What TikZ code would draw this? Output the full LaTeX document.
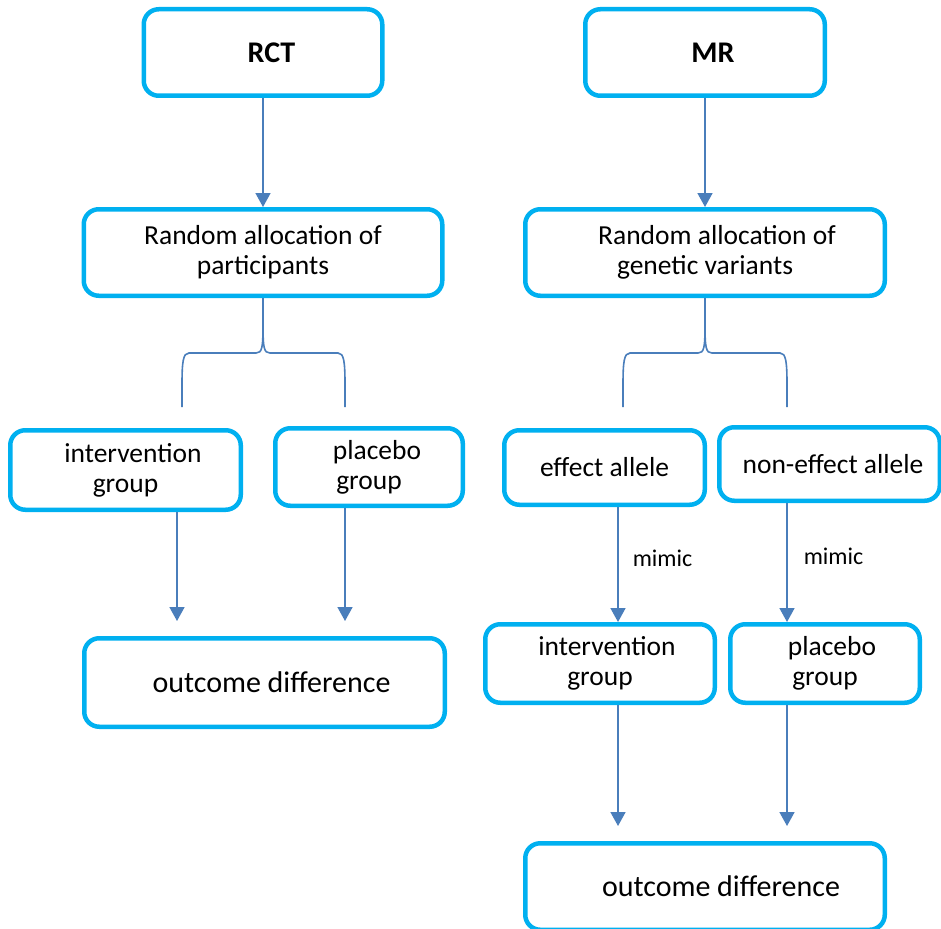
\documentclass[tikz,border=0pt]{standalone}
\usepackage{fontspec}
\setmainfont{Carlito}
\usetikzlibrary{arrows.meta}
\definecolor{boxcyan}{HTML}{00B0F0}
\definecolor{arrblue}{HTML}{4A7EBB}
\begin{document}
\begin{tikzpicture}[x=1pt,y=-1pt,
  fbox/.style={draw=boxcyan, line width=4.5pt, rounded corners=15pt, inner sep=0pt, align=center,
    font=\fontsize{27.5}{30}\selectfont, text=black},
  titlebox/.style={fbox, font=\fontsize{30}{34}\selectfont\bfseries},
  outbox/.style={fbox, font=\fontsize{30}{34}\selectfont},
  arr/.style={draw=arrblue, line width=1.6pt, -{Triangle[width=15pt,length=14pt]}},
  brace/.style={draw=arrblue, line width=1.6pt},
  lbl/.style={font=\fontsize{24}{28}\selectfont, text=black, inner sep=0pt}]
\useasboundingbox (0,0) rectangle (941,928);
\fill[white] (0,0) rectangle (941,928);
% boxes
\node[titlebox, minimum width=238.5pt, minimum height=86.5pt] (rct) at (263,52.5) {\hspace*{17pt}RCT};
\node[titlebox, minimum width=239.5pt, minimum height=86.5pt] (mr) at (705,52.5) {\hspace*{16pt}MR};
\node[fbox, minimum width=358.5pt, minimum height=86.5pt] (randl) at (263,252.5) {Random allocation of\\participants};
\node[fbox, minimum width=359.5pt, minimum height=86.5pt] (randr) at (705,252.5) {\hspace*{24pt}Random allocation of\\genetic variants};
\node[fbox, minimum width=230.5pt, minimum height=79.5pt] (intl) at (125.5,470) {\hspace*{15pt}intervention\\group};
\node[fbox, minimum width=187.5pt, minimum height=77.5pt] (plal) at (369,467) {\hspace*{16pt}placebo\\group};
\node[fbox, minimum width=200.5pt, minimum height=74.5pt] (eff) at (604.5,467.5) {effect allele};
\node[fbox, minimum width=220.5pt, minimum height=73.5pt] (neff) at (829.5,464) {\hspace*{7pt}non-effect allele};
\node[fbox, minimum width=229.5pt, minimum height=78.5pt] (intr) at (600,663.5) {\hspace*{14pt}intervention\\group};
\node[fbox, minimum width=189.5pt, minimum height=78.5pt] (plar) at (825,663.5) {\hspace*{14pt}placebo\\group};
\node[outbox, minimum width=360.5pt, minimum height=88.5pt] (outl) at (264.5,682.5) {\hspace*{14pt}outcome difference};
\node[outbox, minimum width=359.5pt, minimum height=86.5pt] (outr) at (705,886.5) {\hspace*{32pt}outcome difference};
% top arrows
\draw[arr] (rct) -- (randl);
\draw[arr] (mr) -- (randr);
% braces
\foreach \c/\l/\r/\n in {263/182/345/randl, 705/623/787/randr}{
  \draw[brace] (\n.south) -- (\c,325)
    .. controls (\c,348) and ({\c-1},353) .. ({\c-7},353) -- ({\l+7},353)
    .. controls ({\l+1},353) and (\l,362) .. (\l,385) -- (\l,407);
  \draw[brace] (\c,325)
    .. controls (\c,348) and ({\c+1},353) .. ({\c+7},353) -- ({\r-7},353)
    .. controls ({\r-1},353) and (\r,362) .. (\r,385) -- (\r,407);
}
% RCT lower arrows
\coordinate (ta) at (177,621);
\coordinate (tb) at (345,621);
\draw[arr] (intl.south -| ta) -- (ta);
\draw[arr] (plal.south -| tb) -- (tb);
% MR mimic arrows
\coordinate (xa) at (618,0);
\coordinate (xb) at (787,0);
\draw[arr] (eff.south -| xa) -- (intr.north -| xa) node[lbl, pos=0.45, right=14pt] (m1) {mimic};
\draw[arr] (neff.south -| xb) -- (plar.north -| xb) node[lbl, pos=0.45, right=16pt] (m2) {mimic};
% MR lower arrows
\coordinate (tc) at (618,826);
\coordinate (td) at (787,826);
\draw[arr] (intr.south -| tc) -- (tc);
\draw[arr] (plar.south -| td) -- (td);
\end{tikzpicture}
\end{document}
